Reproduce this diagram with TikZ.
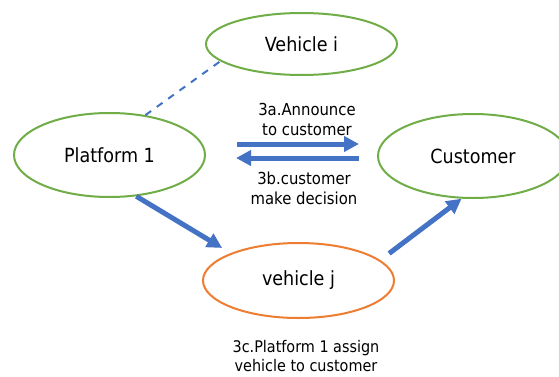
\documentclass[tikz,border=0pt]{standalone}
\usepackage{fontspec}
\setmainfont{DejaVu Sans Condensed}
\usetikzlibrary{arrows.meta,shapes.geometric}
\definecolor{offgreen}{HTML}{70AD47}
\definecolor{offorange}{HTML}{ED7D31}
\definecolor{offblue}{HTML}{4472C4}
\tikzset{
  ell/.style={ellipse, draw=offgreen, line width=2pt, inner sep=0pt,
    font=\fontsize{19.5}{22}\selectfont},
  bigarrow/.style={draw=offblue, line width=5pt,
    -{Triangle[length=15pt,width=15pt]}},
  dashlink/.style={draw=offblue, line width=2pt, dash pattern=on 7pt off 7pt},
  lbl/.style={align=center, inner sep=0pt, font=\fontsize{16.5}{20}\selectfont}
}
\begin{document}
\begin{tikzpicture}[x=1pt,y=1pt]
\useasboundingbox (0,0) rectangle (559,376);
\clip (0,0) rectangle (559,376);
\fill[white] (0,0) rectangle (559,376);
\node[ell, minimum width=191pt, minimum height=62pt] (vi) at (301.5,332) {Vehicle i};
\node[ell, minimum width=191pt, minimum height=84pt] (p1) at (109.5,221) {Platform 1};
\node[ell, minimum width=190pt, minimum height=84pt] (cu) at (473,220) {Customer};
\node[ell, draw=offorange, minimum width=191pt, minimum height=75pt] (vj) at (298.5,95.5) {vehicle j};
\coordinate (a1s) at (237,232);
\coordinate (a1e) at (359,232);
\coordinate (a2s) at (359,218);
\coordinate (a2e) at (236,218);
\draw[bigarrow] (a1s) -- (a1e);
\draw[bigarrow] (a2s) -- (a2e);
\draw[dashlink] (p1.48) -- (vi.-168);
\draw[bigarrow, shorten >=10pt] (p1.-57.5) -- (vj.158);
\draw[bigarrow, shorten <=11pt] (vj.14.7) -- (cu.-105);
\node[lbl] (t3a) at (307,257) {3a.Announce\\to customer};
\node[lbl] (t3b) at (304,187.5) {3b.customer\\make decision};
\node[lbl, font=\fontsize{16}{19}\selectfont] (t3c) at (306,20) {3c.Platform 1 assign\\vehicle to customer};
\end{tikzpicture}
\end{document}
